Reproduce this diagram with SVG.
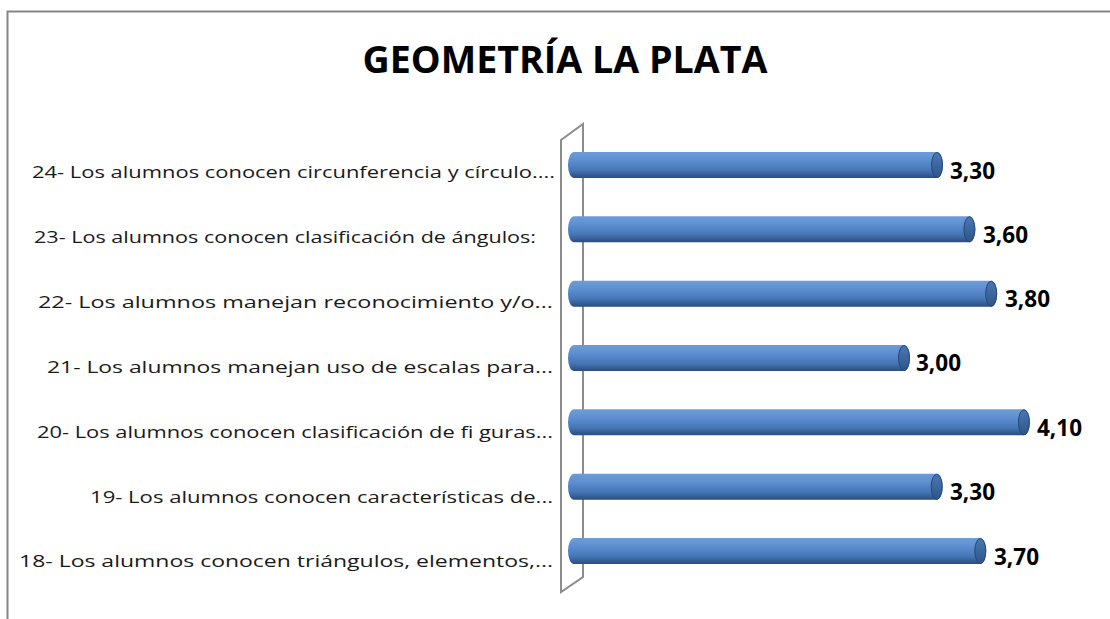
<svg xmlns="http://www.w3.org/2000/svg" width="1110" height="619" viewBox="0 0 1110 619">
<defs>
<linearGradient id="body" x1="0" y1="0" x2="0" y2="1">
<stop offset="0" stop-color="#6f9cd8"/>
<stop offset="0.3" stop-color="#5e90d2"/>
<stop offset="0.7" stop-color="#4676b6"/>
<stop offset="1" stop-color="#294d7f"/>
</linearGradient>
<linearGradient id="cap" x1="0" y1="0" x2="0" y2="1">
<stop offset="0" stop-color="#4b77b3"/>
<stop offset="1" stop-color="#2e5587"/>
</linearGradient>
</defs>
<style>
.lbl{font-family:"Open Sans","Liberation Sans",sans-serif;font-size:17px;fill:#1a1a1a;text-anchor:end}
.val{font-family:"Open Sans","Liberation Sans",sans-serif;font-size:22.5px;font-weight:bold;fill:#000}
.title{font-family:"Open Sans","Liberation Sans",sans-serif;font-size:38px;font-weight:bold;fill:#000;text-anchor:middle}
.wall{fill:none;stroke:#8c8c8c;stroke-width:2}
.bar{fill:url(#body)}
.cap{fill:url(#cap);stroke:#25497a;stroke-width:1}
</style>
<rect x="0" y="0" width="1110" height="619" fill="#fff"/>
<rect x="7.5" y="11.5" width="1200" height="700" fill="none" stroke="#868686" stroke-width="2"/>
<text class="title" x="565" y="73" textLength="405" lengthAdjust="spacingAndGlyphs">GEOMETRÍA LA PLATA</text>
<g id="wall">
<path class="wall" d="M561 140 L583 124 L583 577 L561 592 Z"/>
</g>
<g id="connectors"></g>
<g id="row24">
<text class="lbl" x="555" y="178" textLength="523" lengthAdjust="spacingAndGlyphs">24- Los alumnos conocen circunferencia y círculo....</text>
<path class="bar" d="M574 152 H937 A6 13 0 0 1 937 178 H574 A6 13 0 0 1 574 152 Z"/>
<ellipse class="cap" cx="937" cy="165" rx="5.5" ry="12.5"/>
<text class="val" x="950" y="179">3,30</text>
</g>
<g id="row23">
<text class="lbl" x="536" y="243" textLength="502" lengthAdjust="spacingAndGlyphs">23- Los alumnos conocen clasificación de ángulos:</text>
<path class="bar" d="M574 216.3 H969.4 A6 13 0 0 1 969.4 242.3 H574 A6 13 0 0 1 574 216.3 Z"/>
<ellipse class="cap" cx="969.4" cy="229.3" rx="5.5" ry="12.5"/>
<text class="val" x="983" y="243">3,60</text>
</g>
<g id="row22">
<text class="lbl" x="553" y="308" textLength="515" lengthAdjust="spacingAndGlyphs">22- Los alumnos manejan reconocimiento y/o...</text>
<path class="bar" d="M574 280.7 H991.2 A6 13 0 0 1 991.2 306.7 H574 A6 13 0 0 1 574 280.7 Z"/>
<ellipse class="cap" cx="991.2" cy="293.7" rx="5.5" ry="12.5"/>
<text class="val" x="1005" y="307">3,80</text>
</g>
<g id="row21">
<text class="lbl" x="553" y="373" textLength="506" lengthAdjust="spacingAndGlyphs">21- Los alumnos manejan uso de escalas para...</text>
<path class="bar" d="M574 345 H904 A6 13 0 0 1 904 371 H574 A6 13 0 0 1 574 345 Z"/>
<ellipse class="cap" cx="904" cy="358" rx="5.5" ry="12.5"/>
<text class="val" x="916" y="371">3,00</text>
</g>
<g id="row20">
<text class="lbl" x="553" y="438" textLength="516" lengthAdjust="spacingAndGlyphs">20- Los alumnos conocen clasificación de fi guras...</text>
<path class="bar" d="M574 409.3 H1023.9 A6 13 0 0 1 1023.9 435.3 H574 A6 13 0 0 1 574 409.3 Z"/>
<ellipse class="cap" cx="1023.9" cy="422.3" rx="5.5" ry="12.5"/>
<text class="val" x="1037" y="436">4,10</text>
</g>
<g id="row19">
<text class="lbl" x="553" y="503" textLength="463" lengthAdjust="spacingAndGlyphs">19- Los alumnos conocen características de...</text>
<path class="bar" d="M574 473.7 H936.7 A6 13 0 0 1 936.7 499.7 H574 A6 13 0 0 1 574 473.7 Z"/>
<ellipse class="cap" cx="936.7" cy="486.7" rx="5.5" ry="12.5"/>
<text class="val" x="950" y="500">3,30</text>
</g>
<g id="row18">
<text class="lbl" x="553" y="567" textLength="534" lengthAdjust="spacingAndGlyphs">18- Los alumnos conocen triángulos, elementos,...</text>
<path class="bar" d="M574 538 H980.3 A6 13 0 0 1 980.3 564 H574 A6 13 0 0 1 574 538 Z"/>
<ellipse class="cap" cx="980.3" cy="551" rx="5.5" ry="12.5"/>
<text class="val" x="994" y="565">3,70</text>
</g>
</svg>
